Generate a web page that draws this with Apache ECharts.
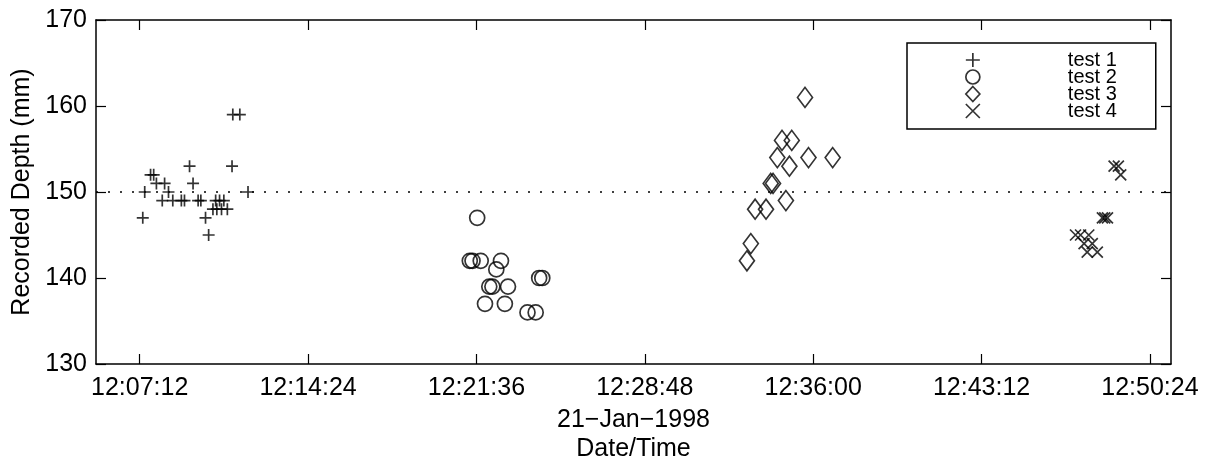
<!DOCTYPE html>
<html>
<head>
<meta charset="utf-8">
<title>Recorded Depth</title>
<script src="https://cdn.jsdelivr.net/npm/echarts@6/dist/echarts.min.js"></script>
<style>
  html, body { margin: 0; padding: 0; background: #fff; }
  #chart { width: 1207px; height: 461px; }
</style>
</head>
<body>
<div id="chart"></div>
<script>
// axis ranges and tick labels
var xMin = '12:05:20';
var xMax = '12:51:18';
var xTickLabels = ['12:07:12', '12:14:24', '12:21:36', '12:28:48', '12:36:00', '12:43:12', '12:50:24'];
var yMin = 130, yMax = 170, yStep = 10;
var refDepth = 150;
var seriesNames = ['test 1', 'test 2', 'test 3', 'test 4'];

// test 1
var test1Times = ['12:07:20', '12:07:25', '12:07:40', '12:07:48', '12:07:55', '12:08:10', '12:08:16',
  '12:08:26', '12:08:37', '12:08:59', '12:09:07', '12:09:20', '12:09:29', '12:09:42', '12:09:49',
  '12:10:01', '12:10:09', '12:10:20', '12:10:27', '12:10:30', '12:10:37', '12:10:42', '12:10:48',
  '12:10:57', '12:11:09', '12:11:11', '12:11:29', '12:11:50'];
var test1Depth = [147, 150, 152, 152, 151, 149, 151, 150, 149, 149, 149, 153, 151, 149, 149,
  147, 145, 148, 149, 148, 149, 148, 149, 148, 153, 159, 159, 150];

// test 2
var test2Times = ['12:21:19', '12:21:26', '12:21:38', '12:21:47', '12:21:58', '12:22:09', '12:22:17',
  '12:22:27', '12:22:39', '12:22:49', '12:22:57', '12:23:47', '12:24:08', '12:24:17', '12:24:25'];
var test2Depth = [142, 142, 147, 142, 137, 139, 139, 141, 142, 137, 139, 136, 136, 140, 140];

// test 3
var test3Times = ['12:33:10', '12:33:20', '12:33:31', '12:33:59', '12:34:11', '12:34:17', '12:34:28',
  '12:34:40', '12:34:50', '12:34:59', '12:35:05', '12:35:39', '12:35:48', '12:36:50'];
var test3Depth = [142, 144, 148, 148, 151, 151, 154, 156, 149, 153, 156, 161, 154, 154];

// test 4
var test4Times = ['12:47:13', '12:47:26', '12:47:35', '12:47:43', '12:47:47', '12:47:56', '12:48:09',
  '12:48:22', '12:48:28', '12:48:35', '12:48:52', '12:49:03', '12:49:09'];
var test4Depth = [145, 145, 144, 143, 145, 144, 143, 147, 147, 147, 153, 153, 152];

function toSec(s) {
  var p = s.split(':');
  return (+p[0]) * 3600 + (+p[1]) * 60 + (+p[2]);
}
function pad(n) { return (n < 10 ? '0' : '') + n; }
function fmtSec(v) {
  v = Math.round(v);
  return pad(Math.floor(v / 3600)) + ':' + pad(Math.floor(v / 60) % 60) + ':' + pad(v % 60);
}
function pairs(times, vals) {
  return times.map(function (t, i) { return [toSec(t), vals[i]]; });
}

var FONT = 'Liberation Sans';
var black = '#000';
var tickVals = xTickLabels.map(toSec);

var markerStyle = { color: 'rgba(0,0,0,0)', borderColor: black, borderWidth: 1.7 };
var plusPath = 'path://M5,0L5,10M0,5L10,5';
var crossPath = 'path://M0,0L10,10M0,10L10,0';

function scatter(name, data, symbol, size) {
  return {
    type: 'scatter',
    name: name,
    data: data,
    symbol: symbol,
    symbolSize: size,
    itemStyle: markerStyle,
    emphasis: { disabled: true },
    animation: false
  };
}

var series = [
  scatter(seriesNames[0], pairs(test1Times, test1Depth), plusPath, 12),
  scatter(seriesNames[1], pairs(test2Times, test2Depth), 'circle', 15),
  scatter(seriesNames[2], pairs(test3Times, test3Depth), 'diamond', [15, 20]),
  scatter(seriesNames[3], pairs(test4Times, test4Depth), crossPath, 11)
];
// dotted reference line
series[0].markLine = {
  silent: true,
  animation: false,
  symbol: ['none', 'none'],
  label: { show: false },
  lineStyle: { color: black, width: 1.6, type: [2, 10] },
  data: [{ yAxis: refDepth }]
};

var axisLineStyle = { color: black, width: 1.5 };
var tickStyle = { color: black, width: 1.2 };

var chart = echarts.init(document.getElementById('chart'));
chart.setOption({
  backgroundColor: '#fff',
  animation: false,
  grid: { left: 96, right: 36, top: 20, bottom: 97, outerBoundsMode: 'none' },
  legend: {
    data: seriesNames,
    orient: 'vertical',
    left: 907,
    top: 43,
    padding: [7, 39, 8, 58],
    itemGap: -3,
    itemWidth: 14,
    itemHeight: 15,
    borderColor: black,
    borderWidth: 1.5,
    backgroundColor: '#fff',
    itemStyle: markerStyle,
    selectedMode: false,
    textStyle: { fontFamily: FONT, fontSize: 20, color: black, padding: [0, 0, 0, 83] }
  },
  xAxis: [{
    type: 'value',
    position: 'bottom',
    min: toSec(xMin),
    max: toSec(xMax),
    splitLine: { show: false },
    axisLine: { show: true, lineStyle: axisLineStyle },
    axisTick: { show: true, inside: true, length: 10, customValues: tickVals, lineStyle: tickStyle },
    axisLabel: {
      customValues: tickVals, formatter: fmtSec, margin: 12,
      fontFamily: FONT, fontSize: 25, color: black
    },
    name: '21\u2212Jan\u22121998\nDate/Time',
    nameLocation: 'middle',
    nameGap: 42,
    nameTextStyle: { fontFamily: FONT, fontSize: 25, color: black, lineHeight: 29 }
  }, {
    type: 'value',
    position: 'top',
    min: toSec(xMin),
    max: toSec(xMax),
    splitLine: { show: false },
    axisLine: { show: true, lineStyle: axisLineStyle },
    axisTick: { show: true, inside: true, length: 10, customValues: tickVals, lineStyle: tickStyle },
    axisLabel: { show: false }
  }],
  yAxis: [{
    type: 'value',
    position: 'left',
    min: yMin,
    max: yMax,
    interval: yStep,
    splitLine: { show: false },
    axisLine: { show: true, lineStyle: axisLineStyle },
    axisTick: { show: true, inside: true, length: 10, lineStyle: tickStyle },
    axisLabel: { margin: 9, fontFamily: FONT, fontSize: 25, color: black },
    name: 'Recorded Depth (mm)',
    nameLocation: 'middle',
    nameRotate: 90,
    nameGap: 60,
    nameTextStyle: { fontFamily: FONT, fontSize: 25, color: black }
  }, {
    type: 'value',
    position: 'right',
    min: yMin,
    max: yMax,
    interval: yStep,
    splitLine: { show: false },
    axisLine: { show: true, lineStyle: axisLineStyle },
    axisTick: { show: true, inside: true, length: 10, lineStyle: tickStyle },
    axisLabel: { show: false }
  }],
  series: series
});
</script>
</body>
</html>
